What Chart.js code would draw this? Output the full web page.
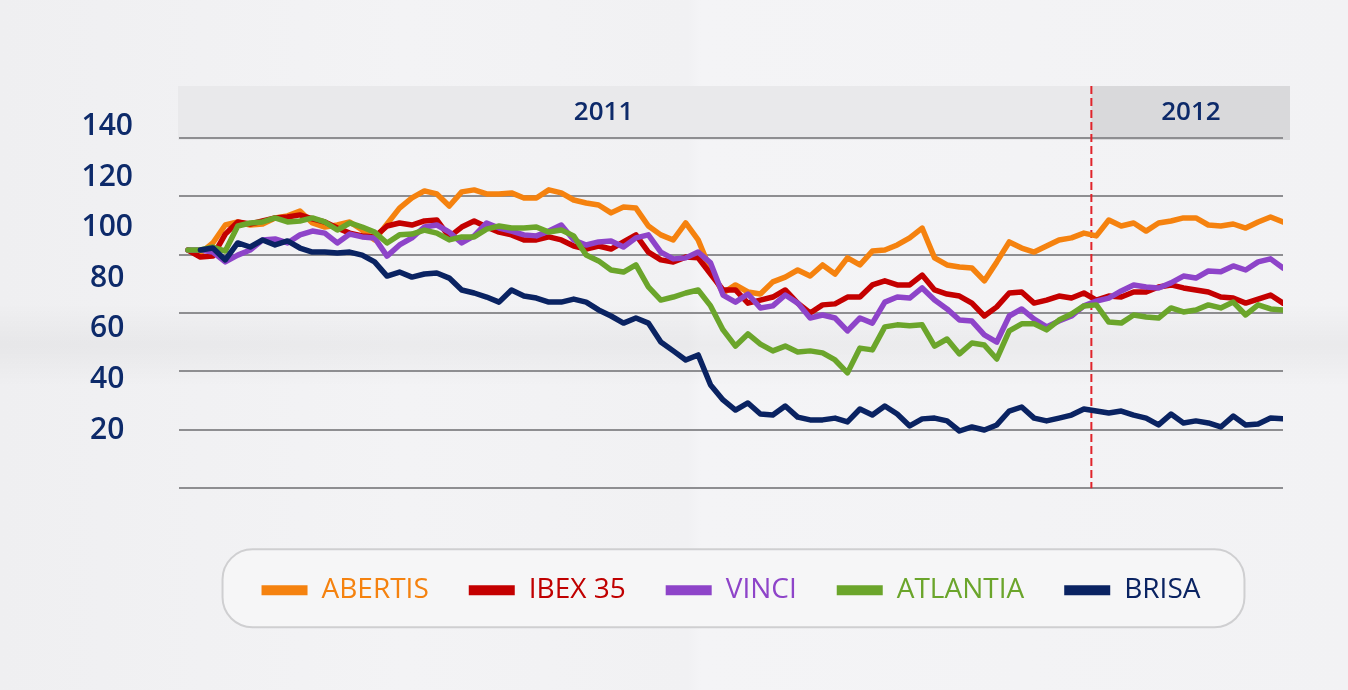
<!DOCTYPE html>
<html>
<head>
<meta charset="utf-8">
<title>Evolución bursátil 2011-2012</title>
<script src="https://cdn.jsdelivr.net/npm/chart.js@4/dist/chart.umd.min.js"></script>
<style>
  html, body { margin: 0; padding: 0; }
  body {
    width: 1348px; height: 690px; overflow: hidden;
    background:
      linear-gradient(180deg, rgba(255,255,255,0) 0%, rgba(0,0,0,0) 44%, rgba(0,0,0,0.035) 50%, rgba(0,0,0,0) 56%),
      linear-gradient(90deg, #efeff1 0%, #f3f3f5 30%, #f1f1f3 51%, #f4f4f6 52%, #f2f2f4 100%);
  }
  canvas { display: block; }
</style>
</head>
<body>
<canvas id="chart-bolsa" width="1348" height="690"></canvas>
<script>
'use strict';

var abertis = [91.2, 90.0, 94.0, 101.1, 102.3, 101.1, 101.5, 103.9, 104.7, 106.6,
  101.9, 100.3, 101.1, 102.3, 99.1, 95.2, 101.5, 107.8, 111.8, 114.6,
  113.4, 108.6, 114.2, 115.0, 113.4, 113.4, 113.8, 111.8, 111.8, 115.0,
  113.8, 111.0, 109.8, 109.0, 105.9, 108.2, 107.8, 100.7, 97.2, 95.2,
  101.9, 95.2, 83.3, 74.2, 77.4, 74.6, 73.8, 78.6, 80.5, 83.3,
  80.9, 85.3, 81.7, 88.1, 85.3, 90.8, 91.2, 93.2, 96.0, 99.9,
  88.1, 85.3, 84.5, 84.1, 79.0, 86.5, 94.4, 92.0, 90.4, 92.8,
  95.2, 96.0, 97.9, 96.8, 103.1, 100.7, 101.9, 98.7, 101.9, 102.7,
  103.9, 103.9, 101.1, 100.7, 101.5, 99.9, 102.3, 104.3, 102.3];

var ibex = [91.2, 88.4, 88.8, 97.5, 102.3, 101.5, 102.7, 103.9, 104.3, 105.1,
  103.5, 102.3, 99.9, 97.9, 96.8, 96.4, 100.7, 101.9, 101.1, 102.7,
  103.1, 96.4, 100.3, 102.7, 100.3, 98.3, 97.2, 95.2, 95.2, 96.4,
  95.2, 92.8, 91.6, 92.8, 91.6, 94.4, 97.2, 90.4, 87.3, 86.5,
  88.4, 88.1, 81.7, 75.4, 75.4, 70.2, 71.4, 72.6, 75.4, 70.2,
  66.3, 69.5, 69.9, 72.6, 72.6, 77.4, 79.0, 77.4, 77.4, 81.3,
  75.4, 73.8, 73.0, 70.2, 65.1, 68.7, 74.2, 74.6, 70.2, 71.4,
  73.0, 72.2, 74.2, 71.4, 73.0, 72.6, 74.6, 74.6, 76.6, 77.4,
  76.2, 75.4, 74.6, 72.6, 72.2, 70.2, 71.8, 73.4, 70.2];

var vinci = [91.2, 91.2, 90.4, 86.5, 89.2, 91.2, 95.2, 95.6, 94.0, 97.2,
  98.7, 97.9, 94.0, 97.5, 96.4, 96.0, 88.8, 93.2, 96.0, 100.3,
  101.1, 98.3, 94.0, 96.8, 101.9, 99.9, 98.7, 97.2, 96.8, 98.7,
  101.1, 95.2, 93.2, 94.4, 94.8, 92.4, 96.0, 97.2, 90.4, 87.7,
  88.1, 90.4, 86.1, 73.4, 70.6, 73.8, 68.3, 69.1, 73.4, 70.2,
  64.3, 65.5, 64.3, 59.2, 64.3, 62.3, 70.6, 72.6, 72.2, 76.2,
  71.4, 67.9, 63.5, 63.1, 57.6, 54.8, 65.1, 67.9, 63.9, 60.8,
  63.1, 65.1, 69.1, 71.0, 72.2, 75.0, 77.4, 76.6, 76.2, 78.2,
  80.9, 80.1, 82.9, 82.6, 84.9, 83.3, 86.5, 87.7, 84.1];

var atlantia = [91.2, 91.2, 92.4, 90.8, 100.7, 101.9, 102.3, 103.9, 102.3, 102.7,
  103.9, 102.3, 99.1, 101.9, 100.3, 98.3, 94.0, 97.2, 97.5, 99.1,
  97.9, 95.2, 96.4, 96.4, 99.5, 100.7, 99.9, 99.9, 100.3, 98.3,
  99.1, 96.8, 89.2, 86.9, 83.3, 82.5, 85.3, 76.6, 71.4, 72.6,
  74.2, 75.4, 69.1, 59.6, 53.2, 58.0, 54.0, 51.3, 53.2, 50.9,
  51.3, 50.5, 47.7, 42.6, 52.4, 51.7, 60.8, 61.6, 61.2, 61.6,
  53.2, 56.0, 50.1, 54.4, 53.6, 48.1, 59.2, 62.0, 62.0, 59.6,
  63.5, 65.9, 69.1, 69.5, 62.7, 62.3, 65.5, 64.7, 64.3, 68.3,
  66.7, 67.5, 69.5, 68.3, 70.6, 65.5, 69.5, 67.9, 67.5];

var brisa = [null, 91.2, 92.0, 87.3, 94.0, 92.4, 95.2, 93.2, 94.8, 92.0,
  90.4, 90.4, 90.0, 90.4, 89.2, 86.5, 80.9, 82.5, 80.5, 81.7,
  82.1, 80.1, 75.4, 74.2, 72.6, 70.6, 75.4, 73.0, 72.2, 70.6,
  70.6, 71.8, 70.6, 67.5, 65.1, 62.3, 64.3, 62.3, 54.8, 51.3,
  47.7, 49.7, 37.8, 31.9, 27.9, 30.7, 26.3, 25.9, 29.5, 25.1,
  24.0, 24.0, 24.7, 23.2, 28.3, 25.9, 29.5, 26.3, 21.6, 24.4,
  24.7, 23.6, 19.6, 21.2, 20.0, 22.0, 27.5, 29.1, 24.7, 23.6,
  24.7, 25.9, 28.3, 27.5, 26.7, 27.5, 25.9, 24.7, 22.0, 26.3,
  22.8, 23.6, 22.8, 21.2, 25.5, 22.0, 22.4, 24.7, 24.4];

// x categories: days since 3 Jan 2011, one sample every 5 days
var days = abertis.map(function (v, i) { return i * 5; });

var seriesNames  = ['ABERTIS', 'IBEX 35', 'VINCI', 'ATLANTIA', 'BRISA'];
var seriesValues = [abertis, ibex, vinci, atlantia, brisa];
var yTicks       = [140, 120, 100, 80, 60, 40, 20];
var gridSteps    = [0, 1, 2, 3, 4, 5, 6];
var yearLabels   = ['2011', '2012'];
var yearCenters  = [167, 403];   // day where each year caption sits
var yearSplit    = 363;          // 1 Jan 2012

var NAVY = '#0d2a6a';
var seriesColors = ['#f5820f', '#c40000', '#8e44c9', '#6ba52b', '#0a2362'];

Chart.defaults.font.family = '"Open Sans", "Noto Sans", sans-serif';

function roundBox(ctx, x, y, w, h, r) {
  ctx.beginPath();
  ctx.moveTo(x + r, y);
  ctx.lineTo(x + w - r, y);
  ctx.arcTo(x + w, y, x + w, y + r, r);
  ctx.lineTo(x + w, y + h - r);
  ctx.arcTo(x + w, y + h, x + w - r, y + h, r);
  ctx.lineTo(x + r, y + h);
  ctx.arcTo(x, y + h, x, y + h - r, r);
  ctx.lineTo(x, y + r);
  ctx.arcTo(x, y, x + r, y, r);
  ctx.closePath();
}

var paperPlugin = {
  id: 'paper',
  beforeDraw: function (chart) {
    var ctx = chart.ctx, a = chart.chartArea, x = chart.scales.x;
    var split = x.getPixelForValue(yearSplit);
    ctx.save();
    // year header bands
    ctx.fillStyle = '#e9e9eb';
    ctx.fillRect(a.left - 1, a.top, split - a.left + 1, 54);
    ctx.fillStyle = '#d9d9db';
    ctx.fillRect(split, a.top, a.right + 7 - split, 54);
    // rounded frame behind the legend
    var lg = chart.legend;
    if (lg && lg.lineWidths) {
      var content = lg.lineWidths[0] - 40;
      var cx = (lg.left + lg.right) / 2;
      var left = cx - content / 2 - 39;
      var right = cx + content / 2 + 44;
      roundBox(ctx, left, lg.top + 13, right - left, 78, 30);
      ctx.fillStyle = '#f6f6f7';
      ctx.fill();
      ctx.lineWidth = 2;
      ctx.strokeStyle = '#cfcfd1';
      ctx.stroke();
    }
    ctx.restore();
  },
  beforeDatasetsDraw: function (chart) {
    var ctx = chart.ctx, a = chart.chartArea, x = chart.scales.x;
    var split = x.getPixelForValue(yearSplit);
    ctx.save();
    ctx.font = '600 26px "Open Sans", sans-serif';
    ctx.fillStyle = NAVY;
    ctx.textAlign = 'center';
    ctx.textBaseline = 'middle';
    yearLabels.forEach(function (t, i) {
      ctx.fillText(t, x.getPixelForValue(yearCenters[i]), a.top + 27);
    });
    ctx.strokeStyle = '#e0242b';
    ctx.lineWidth = 2;
    ctx.setLineDash([8, 4]);
    ctx.beginPath();
    ctx.moveTo(split, a.top);
    ctx.lineTo(split, a.bottom);
    ctx.stroke();
    ctx.restore();
  }
};

var canvas = document.getElementById('chart-bolsa');

new Chart(canvas, {
  type: 'line',
  data: {
    labels: days,
    datasets: seriesNames.map(function (name, i) {
      return {
        label: name,
        data: seriesValues[i],
        borderColor: seriesColors[i],
        backgroundColor: seriesColors[i],
        borderWidth: 5.5,
        pointRadius: 0,
        tension: 0,
        borderJoinStyle: 'round',
        borderCapStyle: 'round',
        order: seriesNames.length - i,
        yAxisID: 'y'
      };
    })
  },
  options: {
    responsive: false,
    animation: false,
    events: [],
    layout: { padding: { top: 86, left: 0, right: 65, bottom: 75.7 } },
    scales: {
      x: {
        type: 'linear',
        min: -3.6,
        max: 440,
        grid: { display: false, drawTicks: false },
        border: { display: false },
        ticks: { display: false },
        afterFit: function (s) { s.height = 48; }
      },
      y: {
        type: 'linear',
        position: 'left',
        min: -3.07,
        max: 156.1,
        afterBuildTicks: function (s) { s.ticks = yTicks.map(function (v) { return { value: v }; }); },
        afterFit: function (s) { s.width = 179; },
        grid: { display: false, drawTicks: false },
        border: { display: false },
        ticks: {
          crossAlign: 'center',
          padding: 46,
          color: NAVY,
          font: { size: 30, weight: '600' }
        }
      },
      yg: {
        type: 'linear',
        position: 'left',
        min: 0,
        max: 6.885,
        afterBuildTicks: function (s) { s.ticks = gridSteps.map(function (v) { return { value: v }; }); },
        afterFit: function (s) { s.width = 0; },
        grid: { color: '#8e8e91', lineWidth: 2, drawTicks: false },
        border: { display: false },
        ticks: { display: false }
      }
    },
    plugins: {
      tooltip: { enabled: false },
      legend: {
        position: 'bottom',
        fullSize: false,
        labels: {
          boxWidth: 46,
          boxHeight: 10,
          padding: 40,
          font: { size: 28, weight: '500' },
          generateLabels: function (chart) {
            return chart.data.datasets.map(function (ds, i) {
              return {
                text: ds.label,
                fillStyle: ds.borderColor,
                strokeStyle: ds.borderColor,
                lineWidth: 0,
                fontColor: i === 1 ? '#c00000' : ds.borderColor,
                hidden: false,
                datasetIndex: i
              };
            });
          }
        }
      }
    }
  },
  plugins: [paperPlugin]
});
</script>
</body>
</html>
